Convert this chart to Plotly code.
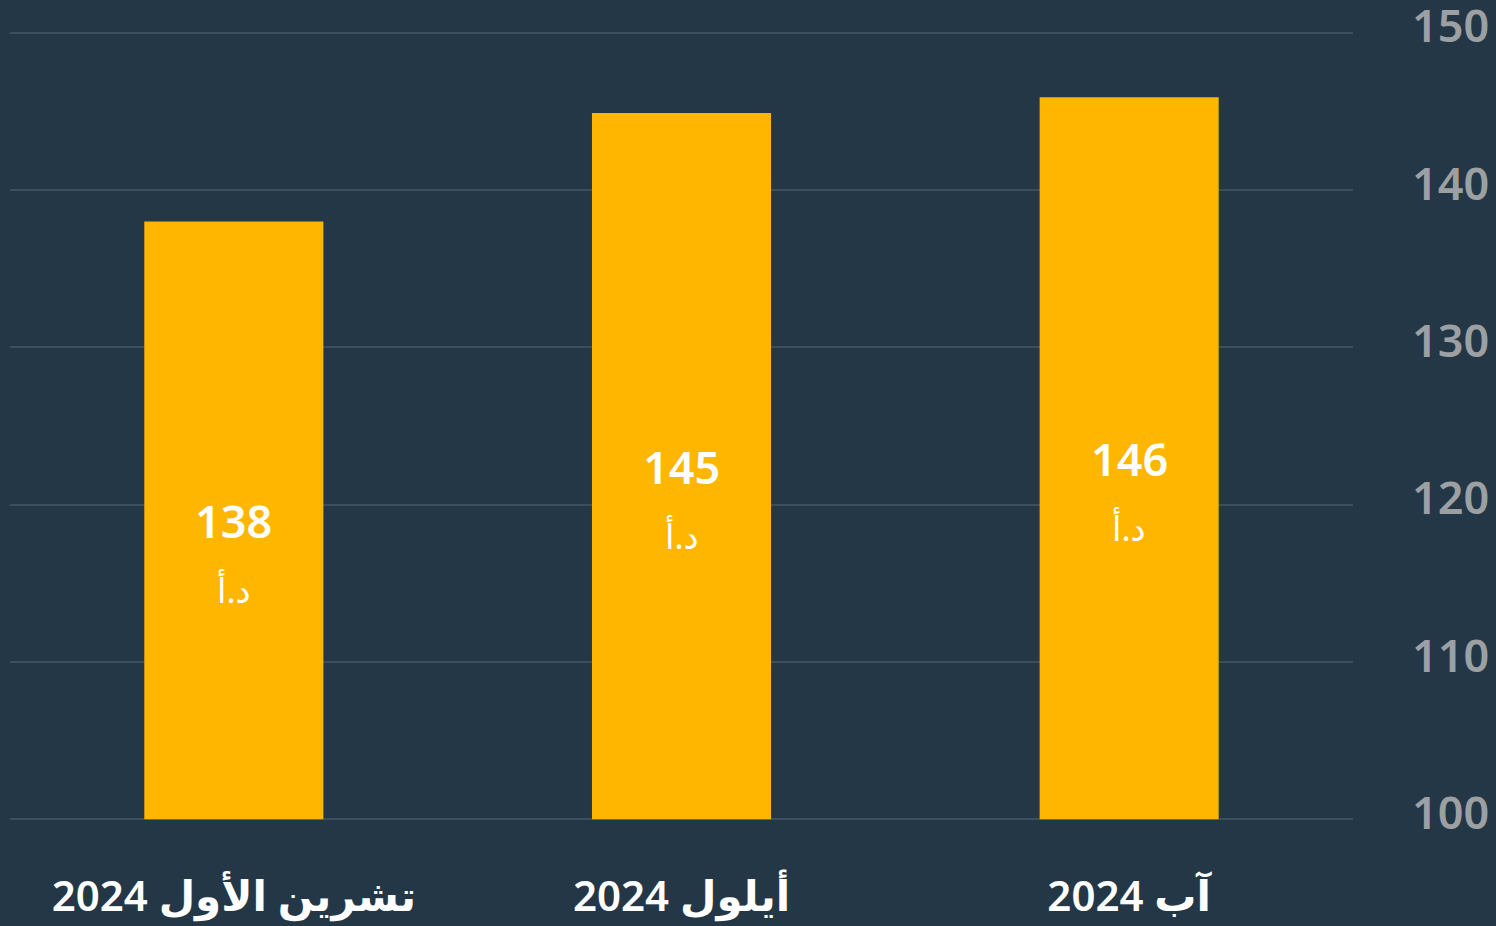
import plotly.graph_objects as go

months = ["آب 2024", "أيلول 2024", "تشرين الأول 2024"]
values = [145.9, 144.9, 138.0]
value_labels = ["146", "145", "138"]
currency = "د.أ"
y_ticks = [100, 110, 120, 130, 140, 150]

BG = "#243746"
BAR = "#FFB600"
GRID = "#3C4F5F"
FONT = "Noto Sans, DejaVu Sans, sans-serif"

fig = go.Figure()
fig.add_trace(go.Bar(
    x=months, y=[v - y_ticks[0] for v in values], base=y_ticks[0], width=0.4,
    marker=dict(color=BAR, line=dict(width=0)),
    hoverinfo="skip",
))

annotations = []
for m, v, lab in zip(months, values, value_labels):
    mid = (y_ticks[0] + v) / 2
    annotations.append(dict(x=m, y=mid, text=lab, showarrow=False,
                            font=dict(family=FONT, size=45, color="white", weight=600),
                            xanchor="center", yanchor="middle"))
    annotations.append(dict(x=m, y=mid, text=currency, showarrow=False,
                            font=dict(family=FONT, size=34, color="white"),
                            xanchor="center", yanchor="middle", yshift=-70))

fig.update_layout(
    width=1496, height=926,
    paper_bgcolor=BG, plot_bgcolor=BG,
    margin=dict(l=10, r=143, t=17, b=91, autoexpand=False),
    showlegend=False,
    annotations=annotations,
)
fig.update_xaxes(
    type="category", categoryorder="array", categoryarray=months,
    autorange="reversed", showgrid=False, zeroline=False, showline=False,
    tickfont=dict(family=FONT, size=42, color="white", weight=600),
    ticklabelstandoff=33, ticks="", automargin=False,
)
fig.update_yaxes(
    range=[99, 151], side="right", tickvals=y_ticks,
    showgrid=True, gridcolor=GRID, gridwidth=2, zeroline=False, showline=False,
    tickfont=dict(family=FONT, size=45, color="#9DA0A3", weight=600),
    ticklabelstandoff=58, ticks="", ticklabelshift=-6, automargin=False,
    ticklabeloverflow="allow",
)

fig.write_html("out.html", config={"displayModeBar": False},
               post_script="document.body.style.margin='0';")
